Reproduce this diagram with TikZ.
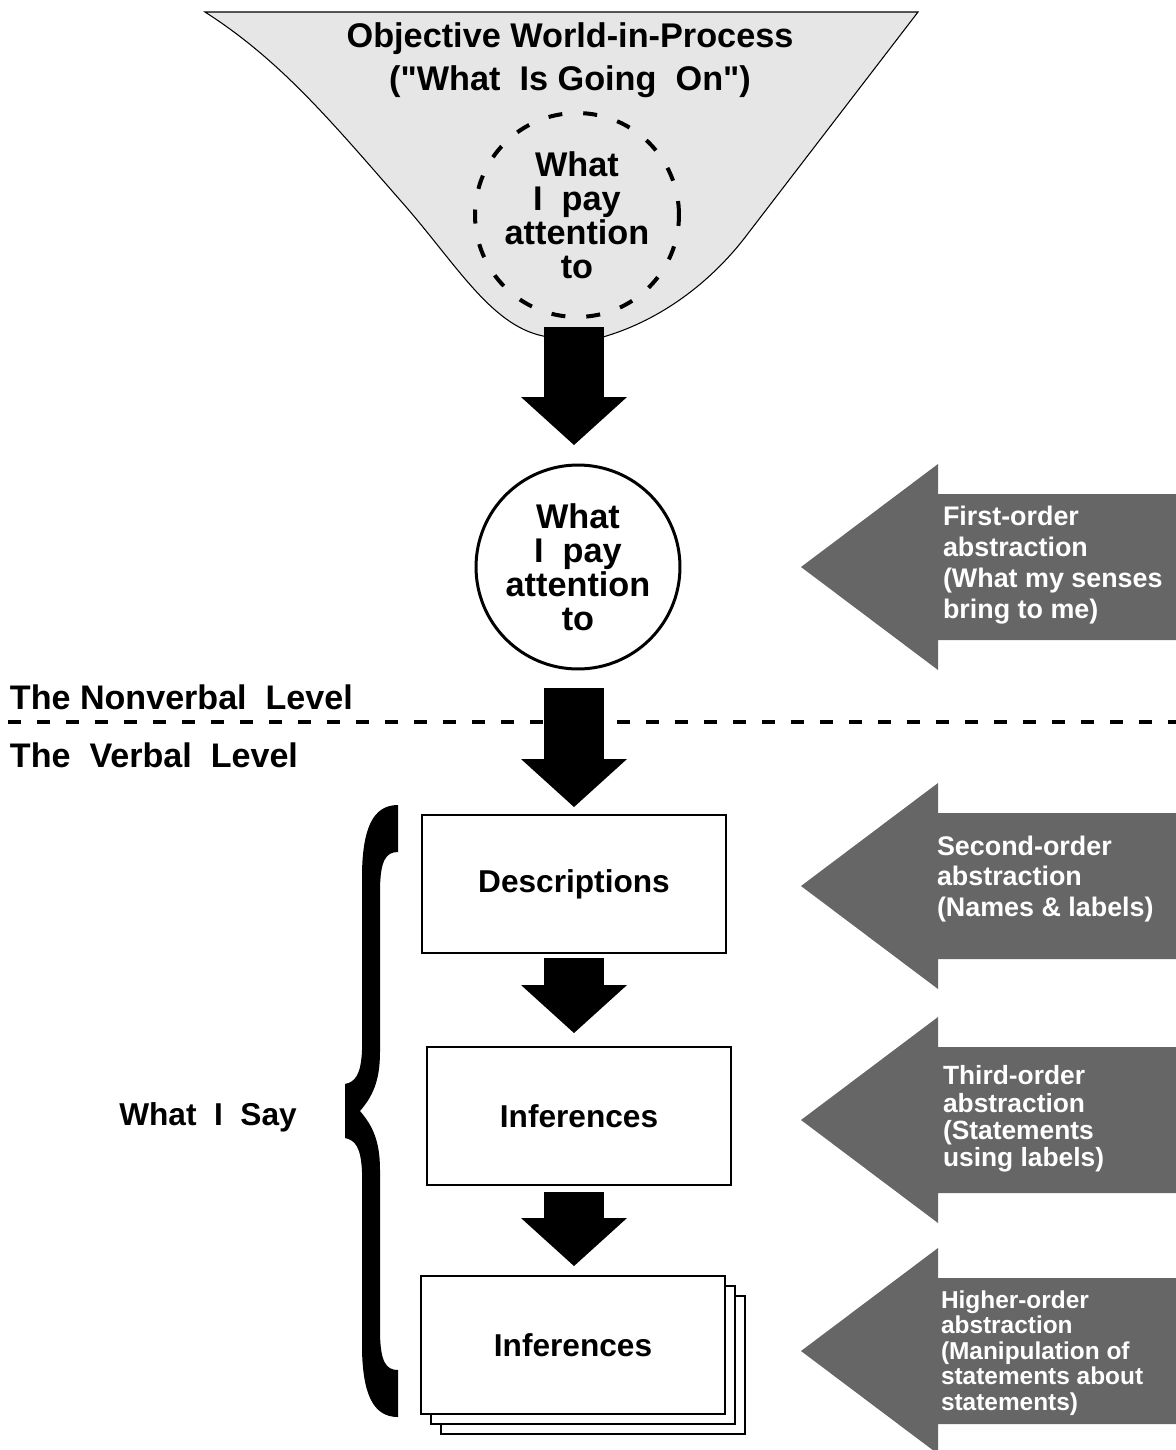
\documentclass[tikz,border=0pt]{standalone}
\usepackage{fontspec}
\setmainfont{Liberation Sans}[Ligatures=TeXOff]
\usetikzlibrary{arrows.meta,calc,shadows}
\definecolor{funnelgray}{RGB}{230,230,230}
\definecolor{pointergray}{RGB}{102,102,102}

% grey pointer arrow coming in from the right edge; #1 = y of its tip
\newcommand{\leftpointer}[1]{%
  \fill[pointergray] (801,#1) -- (938,#1-103) -- (938,#1-73) -- (1180,#1-73)
    -- (1180,#1+73) -- (938,#1+73) -- (938,#1+103) -- cycle;}

\begin{document}
\begin{tikzpicture}[x=0.02cm, y=-0.02cm,
  every node/.style={inner sep=0pt, outer sep=0pt},
  titletext/.style={font=\fontsize{19.5}{24.4}\selectfont\bfseries, align=center},
  circletext/.style={font=\fontsize{19.5}{19.4}\selectfont\bfseries, align=center},
  boxtext/.style={font=\fontsize{18}{20}\selectfont\bfseries},
  levellabel/.style={font=\fontsize{19.4}{22}\selectfont\bfseries, anchor=base west},
  focusring/.style={circle, draw, line width=0.08cm, dash pattern=on 0.28cm off 0.42cm,
                    minimum size=4.08cm},
  attendring/.style={circle, draw, line width=0.06cm, fill=white, minimum size=4.08cm},
  stagebox/.style={rectangle, draw, line width=0.04cm, fill=white,
                   minimum width=6.08cm, minimum height=2.76cm},
  flowarrow/.style={line width=1.2cm,
                    -{Triangle[length=0.96cm, width=2.12cm, line width=0pt]}},
  pointertext/.style={text=white, align=left, anchor=west}
]
\useasboundingbox (0,0) rectangle (1176,1450);

% the funnel of the world-in-process
\filldraw[fill=funnelgray, draw=black, line width=0.6pt]
  (205,12) -- (918,12) -- (743,240)
  .. controls (705,288) and (655,322) .. (603,337)
  .. controls (585,341) and (560,340) .. (543,336)
  .. controls (490,325) and (455,262) .. (400,200)
  .. controls (330,120) and (280,60) .. (205,12) -- cycle;
\node[titletext] (world) at (570,60) {Objective World-in-Process\\("What~~Is Going~~On")};
\node[focusring, circletext] (focus) at (577,215) {What\\I~~pay\\attention\\to};
\coordinate (neck) at (574,327);

% nonverbal level
\node[attendring, circletext] (attend) at (578,567) {What\\I~~pay\\attention\\to};

% boundary between the levels
\draw[line width=0.08cm, dash pattern=on 0.26cm off 0.32cm] (8,722) -- (1176,722);
\node[levellabel] (nonverbal) at (10,709) {The Nonverbal~~Level};
\node[levellabel] (verbal) at (10,767) {The~~Verbal~~Level};

% verbal level
\node[stagebox, boxtext] (desc) at (574,884) {Descriptions};
\node[stagebox, boxtext] (infer) at (579,1116) {Inferences};
\node[stagebox, boxtext,
      copy shadow={shadow xshift=0.4cm, shadow yshift=-0.4cm, line width=0.04cm},
      copy shadow={shadow xshift=0.2cm, shadow yshift=-0.2cm, line width=0.04cm}]
      (infertwo) at (573,1345) {Inferences};

% brace grouping what is said
\fill (398,805) .. controls (372,805) and (363,830) .. (362,872) -- (362,1050)
  .. controls (361,1075) and (355,1082) .. (345,1084) -- (345,1138)
  .. controls (355,1140) and (361,1147) .. (362,1172) -- (362,1350)
  .. controls (363,1392) and (372,1417) .. (398,1417) -- (398,1370)
  .. controls (386,1370) and (380,1362) .. (380,1330) -- (380,1170)
  .. controls (380,1140) and (372,1125) .. (360,1111)
  .. controls (372,1097) and (380,1082) .. (380,1052) -- (380,892)
  .. controls (380,860) and (386,852) .. (398,852) -- cycle;
\node[boxtext, anchor=base] (say) at (208,1125) {What~~I~~Say};

% flow of abstraction
\draw[flowarrow] (neck) -- ($(neck |- attend.north)+(0,-20)$);
\draw[flowarrow] ($(neck |- attend.south)+(0,19)$) -- ($(neck |- desc.north)+(0,-8)$);
\draw[flowarrow] ($(neck |- desc.south)+(0,5)$) -- ($(neck |- infer.north)+(0,-14)$);
\draw[flowarrow] ($(neck |- infer.south)+(0,7)$) -- ($(neck |- infertwo.north)+(0,-10)$);

% orders of abstraction
\leftpointer{567}
\leftpointer{886}
\leftpointer{1120}
\leftpointer{1351}
\node[pointertext, font=\fontsize{15.3}{17.6}\selectfont\bfseries] (first) at (943,565)
  {First-order\\abstraction\\(What my senses\\bring to me)};
\node[pointertext, font=\fontsize{15.3}{17.6}\selectfont\bfseries] (second) at (937,879)
  {Second-order\\abstraction\\(Names \& labels)};
\node[pointertext, font=\fontsize{15}{15.5}\selectfont\bfseries] (third) at (943,1119)
  {Third-order\\abstraction\\(Statements\\using labels)};
\node[pointertext, font=\fontsize{13.9}{14.5}\selectfont\bfseries] (higher) at (941,1353)
  {Higher-order\\abstraction\\(Manipulation of\\statements about\\statements)};
\end{tikzpicture}
\end{document}
